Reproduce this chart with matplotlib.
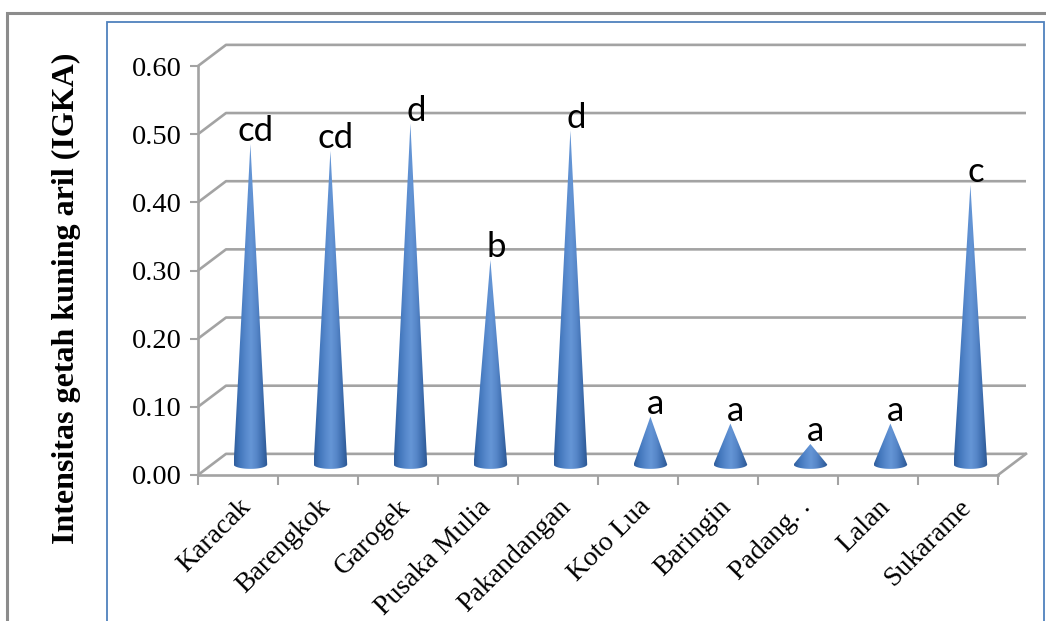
import numpy as np
import matplotlib
matplotlib.use("Agg")
import matplotlib.pyplot as plt
from matplotlib.patches import Polygon, Rectangle
from matplotlib.colors import to_rgb

# data
sites = ["Karacak", "Barengkok", "Garogek", "Pusaka Mulia", "Pakandangan",
         "Koto Lua", "Baringin", "Padang. .", "Lalan", "Sukarame"]
igka = [0.47, 0.46, 0.50, 0.30, 0.49, 0.07, 0.06, 0.03, 0.06, 0.41]
letters = ["cd", "cd", "d", "b", "d", "a", "a", "a", "a", "c"]
yticks = [0.0, 0.1, 0.2, 0.3, 0.4, 0.5, 0.6]

W, H = 1046, 621
fig = plt.figure(figsize=(W / 100, H / 100), dpi=100)

# frames around the chart (gray outer, blue inner)
fig.patches.append(Rectangle((7 / W, -0.05), 1.2, (H - 13) / H + 0.05,
                             transform=fig.transFigure, fill=False,
                             ec="#8c8c8c", lw=2.2))
fig.patches.append(Rectangle((107 / W, -0.05), (1044 - 107) / W, (H - 22) / H + 0.05,
                             transform=fig.transFigure, fill=False,
                             ec="#4f81bd", lw=1.3))

ax = fig.add_axes([198 / W, 146 / H, 800 / W, 409 / H])
n = len(sites)
ax.set_xlim(0, n)
ax.set_ylim(0, 0.6)

# fake depth of the 3d box
DX = 0.35
DY = 0.031
grid = "#a3a3a3"
glw = 1.9

for t in yticks:
    ax.plot([0, DX, n + DX], [t, t + DY, t + DY], color=grid, lw=glw,
            clip_on=False, zorder=1, solid_capstyle="butt")
ax.plot([n, n + DX], [0, DY], color=grid, lw=glw, clip_on=False, zorder=1)

for s in ["top", "right"]:
    ax.spines[s].set_visible(False)
for s in ["left", "bottom"]:
    ax.spines[s].set_color(grid)
    ax.spines[s].set_linewidth(glw)

# cones
cols = ["#2f5d9c", "#4276bb", "#5587cb", "#6596d6", "#5686c8", "#3e6eaf", "#2a548e"]
pos = np.linspace(0, 1, len(cols))
xs = np.linspace(0, 1, 200)
grad = np.array([np.interp(xs, pos, [to_rgb(c)[k] for c in cols]) for k in range(3)]).T
grad = grad[np.newaxis, :, :]

hw = 0.21
eh = 0.0065
base = DY / 2
th = np.linspace(0, np.pi, 40)
for i, v in enumerate(igka):
    cx = i + 0.5 + DX / 2 - 0.02
    top = base + v
    arc = np.column_stack([cx + hw * np.cos(th), base - eh * np.sin(th)])
    pts = np.vstack([[cx, top], arc])
    poly = Polygon(pts, closed=True, fc="none", ec="none", transform=ax.transData)
    ax.add_patch(poly)
    im = ax.imshow(grad, extent=[cx - hw, cx + hw, base - eh, top], aspect="auto",
                   zorder=3, interpolation="bilinear", clip_on=True)
    im.set_clip_path(poly)
    ax.annotate(letters[i], (cx, top), xytext=(4, 2), textcoords="offset points",
                ha="center", va="baseline", fontsize=25, family="Lato", zorder=5,
                annotation_clip=False)

ax.set_xlim(0, n)
ax.set_ylim(0, 0.6)

serif = "Liberation Serif"
ax.set_yticks(yticks)
ax.set_yticklabels(["%.2f" % t for t in yticks], fontsize=20.5, family=serif)
ax.tick_params(axis="y", length=6, width=1.5, color=grid, pad=6)

ax.set_xticks(np.arange(n) + 0.5)
ax.set_xticklabels(sites, rotation=45, ha="right", rotation_mode="anchor",
                   fontsize=20, family=serif)
ax.tick_params(axis="x", which="major", length=0, pad=14)
ax.set_xticks(np.arange(n + 1), minor=True)
ax.tick_params(axis="x", which="minor", length=7, width=1.5, color=grid)

ax.set_ylabel("Intensitas getah kuning aril (IGKA)", fontsize=23,
              family=serif, fontweight="bold", va="center")
ax.yaxis.set_label_coords(-132 / 800, 0.433)

fig.savefig("out.png", dpi=100)
